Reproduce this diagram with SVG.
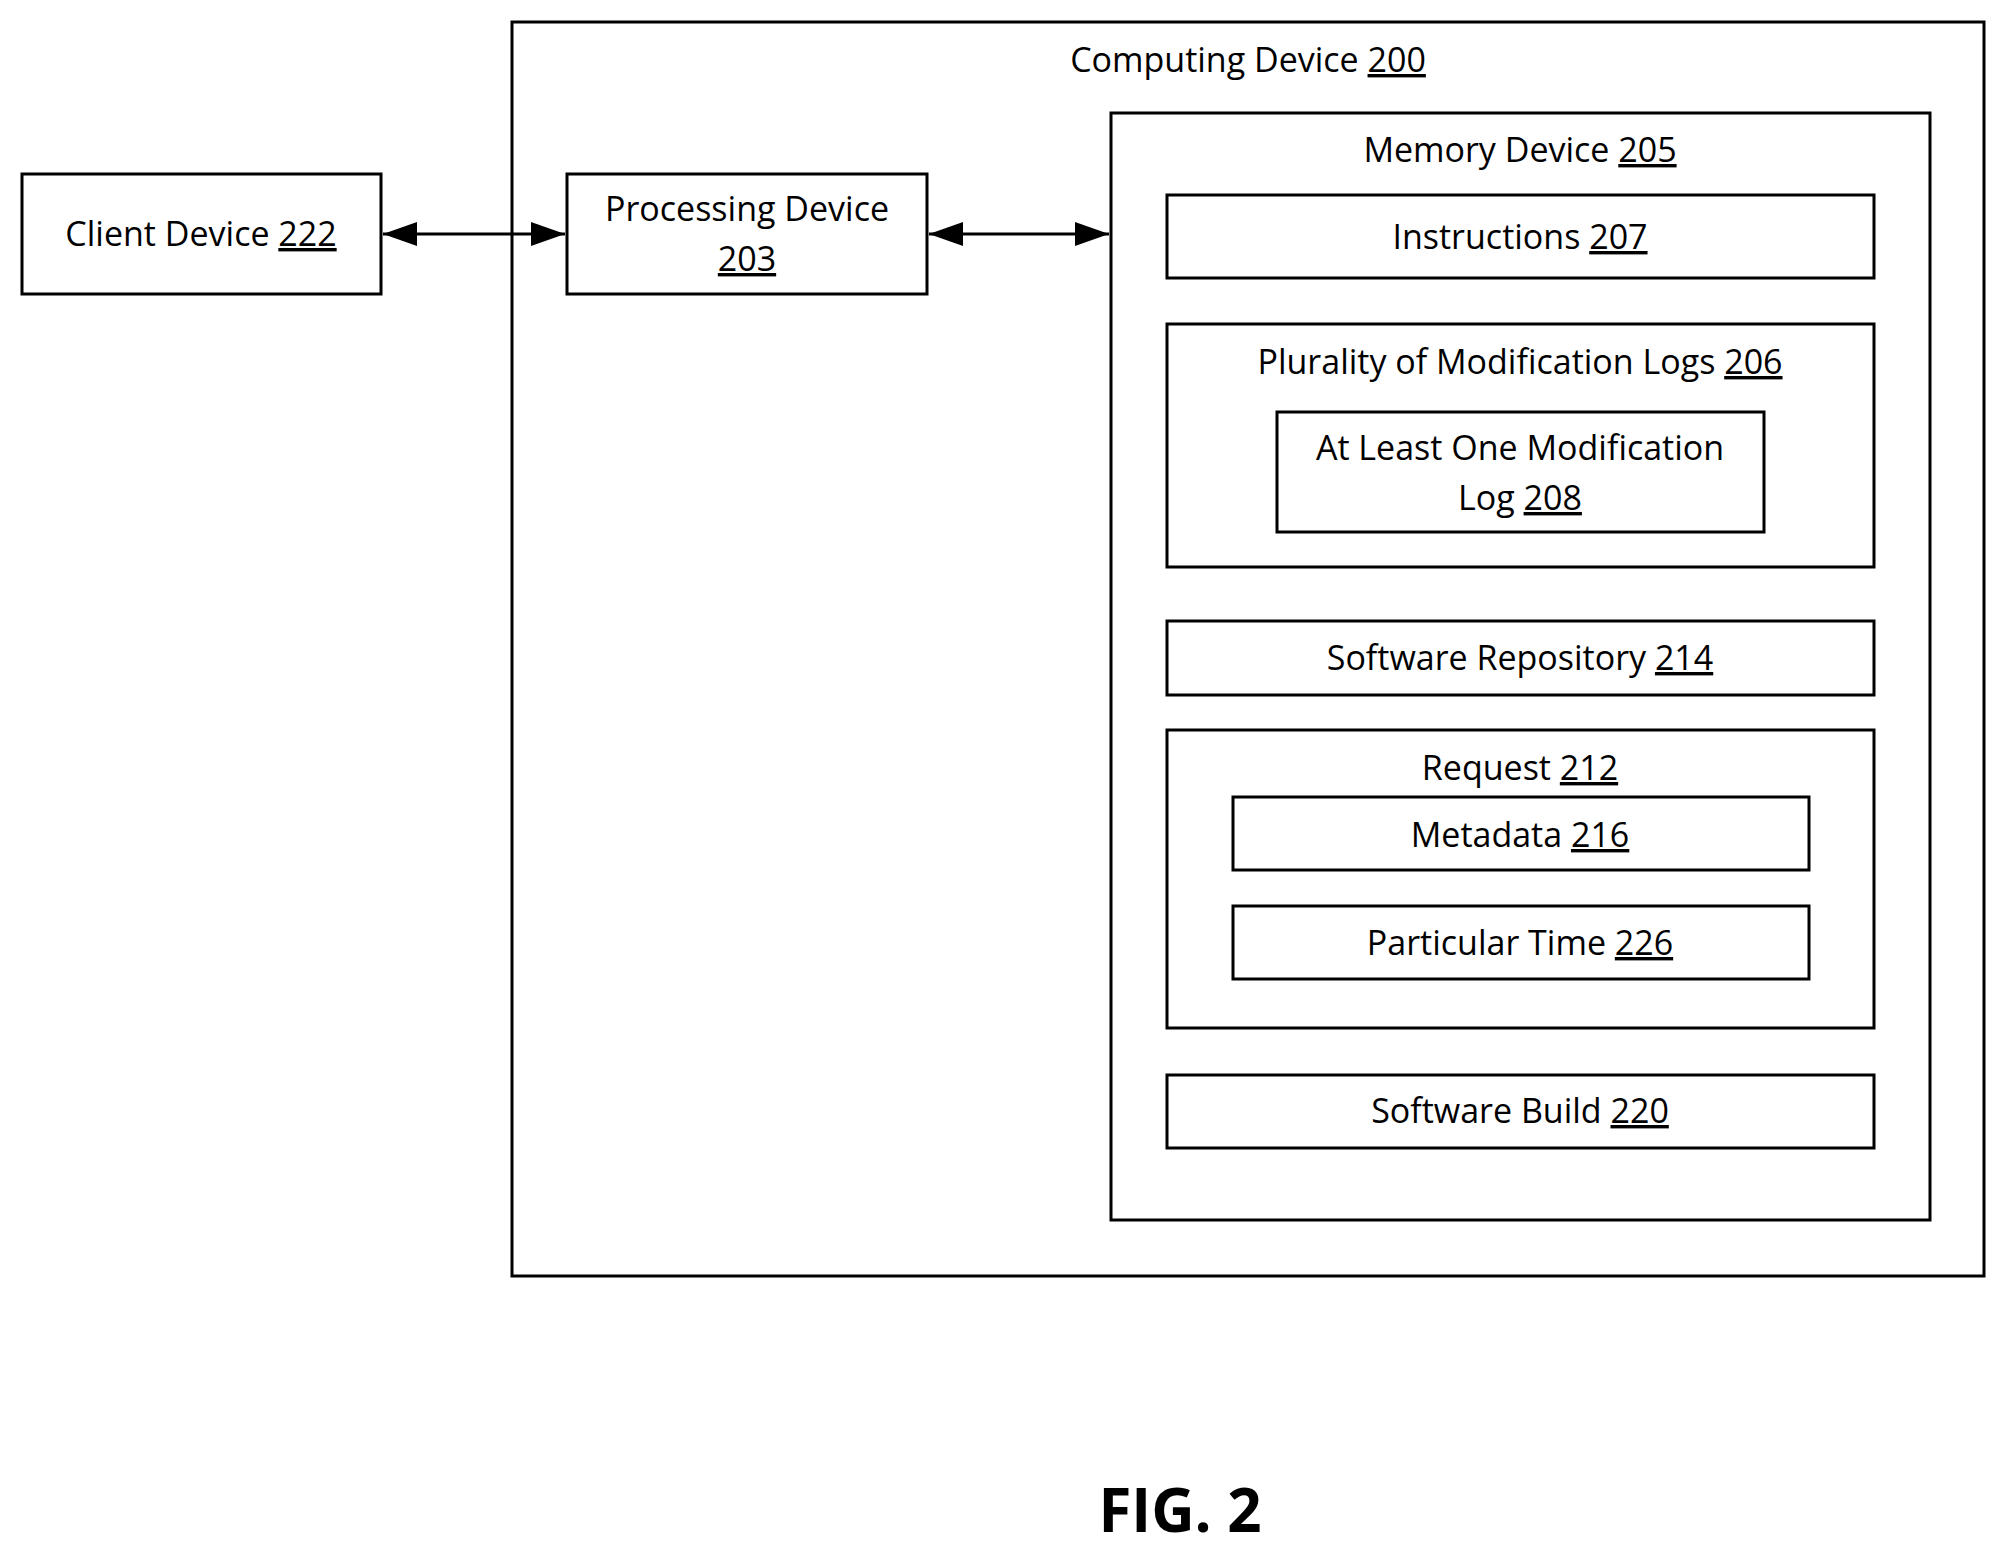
<svg xmlns="http://www.w3.org/2000/svg" width="2007" height="1555" viewBox="0 0 2007 1555">
<style>
rect{fill:none;stroke:#000;stroke-width:3}
text{font-family:"Open Sans","Liberation Sans",sans-serif;font-size:34px;text-anchor:middle;fill:#000}
.u{text-decoration:underline}
line{stroke:#000;stroke-width:3}
</style>
<defs><marker id="a" viewBox="0 0 10 10" refX="10" refY="5" markerWidth="11" markerHeight="11" markerUnits="userSpaceOnUse" orient="auto-start-reverse"><path d="M0,0L10,5L0,10z" fill="#000"/></marker>
<marker id="b" viewBox="0 0 10 10" refX="10" refY="5" markerWidth="34" markerHeight="24" markerUnits="userSpaceOnUse" orient="auto-start-reverse" preserveAspectRatio="none"><path d="M0,0L10,5L0,10z" fill="#000"/></marker></defs>
<rect fill="#fff" width="2007" height="1555" style="fill:#fff;stroke:none"/>
<g id="computing"><rect x="512" y="22" width="1472" height="1254"/><text x="1248" y="72">Computing Device <tspan class="u">200</tspan></text></g>
<g id="client"><rect x="22" y="174" width="359" height="120"/><text x="201" y="246">Client Device <tspan class="u">222</tspan></text></g>
<g id="processing"><rect x="567" y="174" width="360" height="120"/><text x="747" y="221">Processing Device</text><text x="747" y="271" class="u">203</text></g>
<g id="memory"><rect x="1111" y="113" width="819" height="1107"/><text x="1520" y="162">Memory Device <tspan class="u">205</tspan></text></g>
<g id="instructions"><rect x="1167" y="195" width="707" height="83"/><text x="1520" y="249">Instructions <tspan class="u">207</tspan></text></g>
<g id="logs"><rect x="1167" y="324" width="707" height="243"/><text x="1520" y="374">Plurality of Modification Logs <tspan class="u">206</tspan></text></g>
<g id="log208"><rect x="1277" y="412" width="487" height="120"/><text x="1520" y="460">At Least One Modification</text><text x="1520" y="510">Log <tspan class="u">208</tspan></text></g>
<g id="repo"><rect x="1167" y="621" width="707" height="74"/><text x="1520" y="670">Software Repository <tspan class="u">214</tspan></text></g>
<g id="request"><rect x="1167" y="730" width="707" height="298"/><text x="1520" y="780">Request <tspan class="u">212</tspan></text></g>
<g id="metadata"><rect x="1233" y="797" width="576" height="73"/><text x="1520" y="847">Metadata <tspan class="u">216</tspan></text></g>
<g id="time"><rect x="1233" y="906" width="576" height="73"/><text x="1520" y="955">Particular Time <tspan class="u">226</tspan></text></g>
<g id="build"><rect x="1167" y="1075" width="707" height="73"/><text x="1520" y="1123">Software Build <tspan class="u">220</tspan></text></g>
<g id="connectors">
<line x1="383" y1="234" x2="565" y2="234" marker-start="url(#b)" marker-end="url(#b)"/>
<line x1="929" y1="234" x2="1109" y2="234" marker-start="url(#b)" marker-end="url(#b)"/>
</g>
<text x="1180" y="1532" style="font-size:60px;font-weight:bold">FIG. 2</text>
</svg>
